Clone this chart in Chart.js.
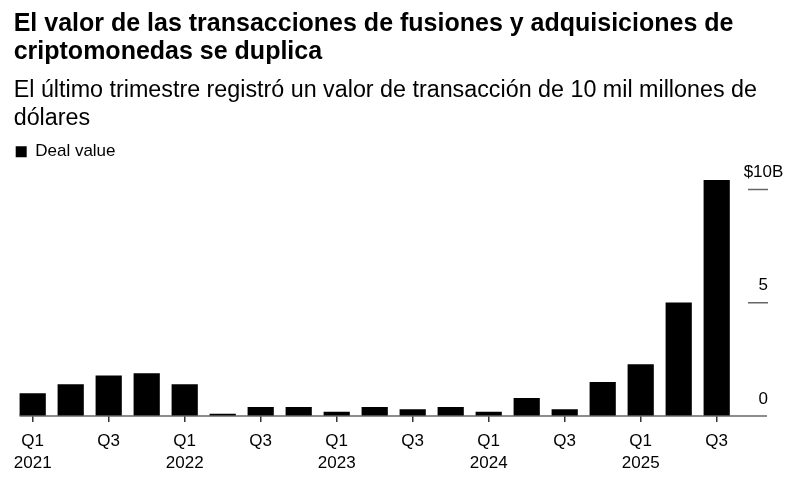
<!DOCTYPE html>
<html>
<head>
<meta charset="utf-8">
<script src="https://cdn.jsdelivr.net/npm/chart.js@4.4.1/dist/chart.umd.min.js"></script>
<style>
  body { margin: 0; background: #fff; }
  #wrap { width: 793px; height: 492px; position: relative; }
</style>
</head>
<body>
<div id="wrap"><canvas id="deal-chart"></canvas></div>
<script>
var quarters = ["Q1 2021", "Q2 2021", "Q3 2021", "Q4 2021",
                "Q1 2022", "Q2 2022", "Q3 2022", "Q4 2022",
                "Q1 2023", "Q2 2023", "Q3 2023", "Q4 2023",
                "Q1 2024", "Q2 2024", "Q3 2024", "Q4 2024",
                "Q1 2025", "Q2 2025", "Q3 2025"];
var tickLabels = [["Q1", "2021"], "", "Q3", "",
                  ["Q1", "2022"], "", "Q3", "",
                  ["Q1", "2023"], "", "Q3", "",
                  ["Q1", "2024"], "", "Q3", "",
                  ["Q1", "2025"], "", "Q3"];
// deal value, billions of dollars
var dealValue = [1.0, 1.4, 1.79, 1.89,
                 1.4, 0.1, 0.4, 0.4,
                 0.19, 0.4, 0.3, 0.4,
                 0.19, 0.79, 0.3, 1.5,
                 2.29, 5.01, 10.42];
var yTicks = [0, 5, 10];
var yTickLabels = ["0", "5", "$10B"];

var FONT = "'Liberation Sans', Arial, Helvetica, sans-serif";

// baseline, short gridlines and right-hand labels
var decorations = {
    id: 'decorations',
    afterDatasetsDraw: function(chart) {
        var ctx = chart.ctx;
        var y = chart.scales.y;
        var first = chart.getDatasetMeta(0).data[0];
        var base = y.getPixelForValue(0);
        ctx.save();
        ctx.strokeStyle = '#666';
        ctx.lineWidth = 1.5;
        ctx.beginPath();
        ctx.moveTo(first.x - first.width / 2, base);
        ctx.lineTo(767, base);
        ctx.stroke();

        ctx.font = "17px " + FONT;
        ctx.fillStyle = '#000';
        ctx.textAlign = 'right';
        ctx.textBaseline = 'middle';
        var hang = ctx.measureText('B').width + 4;
        for (var i = 0; i < yTicks.length; i++) {
            var py = y.getPixelForValue(yTicks[i]);
            if (yTicks[i] > 0) {
                ctx.beginPath();
                ctx.moveTo(748, py);
                ctx.lineTo(768, py);
                ctx.stroke();
            }
            var label = yTickLabels[i];
            var tx = label.slice(-1) === 'B' ? 768 + hang : 768;
            ctx.fillText(label, tx, py - 17);
        }
        ctx.restore();
    }
};

var dealChart = new Chart(document.getElementById("deal-chart"), {
    type: 'bar',
    data: {
        labels: quarters,
        datasets: [{
            label: 'Deal value',
            data: dealValue,
            backgroundColor: '#000',
            borderWidth: 0,
            categoryPercentage: 1,
            barPercentage: 0.69
        }]
    },
    plugins: [decorations],
    options: {
        responsive: true,
        maintainAspectRatio: false,
        animation: false,
        layout: { padding: { left: 13.7, right: 0, top: 0, bottom: 9.5 } },
        plugins: {
            title: {
                display: true,
                align: 'start',
                text: ['El valor de las transacciones de fusiones y adquisiciones de',
                       'criptomonedas se duplica'],
                color: '#000',
                font: { family: FONT, size: 25, weight: 'bold', lineHeight: 1.12 },
                padding: { top: 10.5, bottom: 10.5 }
            },
            subtitle: {
                display: true,
                align: 'start',
                text: ['El último trimestre registró un valor de transacción de 10 mil millones de',
                       'dólares'],
                color: '#000',
                font: { family: FONT, size: 23.3, weight: 'normal', lineHeight: 1.19 },
                padding: { top: 0, bottom: 8.8 }
            },
            legend: {
                display: true,
                position: 'top',
                align: 'start',
                labels: {
                    boxWidth: 11,
                    boxHeight: 11,
                    padding: 2,
                    color: '#000',
                    font: { family: FONT, size: 17 }
                }
            },
            tooltip: { enabled: false }
        },
        scales: {
            x: {
                offset: true,
                border: { display: false },
                grid: {
                    offset: false,
                    drawOnChartArea: false,
                    drawTicks: true,
                    tickLength: 6,
                    lineWidth: 1.5,
                    color: function(c) { return tickLabels[c.index] ? '#333' : 'rgba(0,0,0,0)'; }
                },
                ticks: {
                    autoSkip: false,
                    maxRotation: 0,
                    minRotation: 0,
                    padding: 9,
                    color: '#000',
                    font: { family: FONT, size: 17, lineHeight: 1.25 },
                    callback: function(v, i) { return tickLabels[i]; }
                }
            },
            y: {
                position: 'right',
                min: 0,
                max: 10.85,
                border: { display: false },
                grid: { display: false },
                ticks: { display: false },
                afterBuildTicks: function(scale) {
                    scale.ticks = yTicks.map(function(v) { return { value: v }; });
                },
                afterFit: function(scale) { scale.width = 57.3; }
            }
        }
    }
});
</script>
</body>
</html>
